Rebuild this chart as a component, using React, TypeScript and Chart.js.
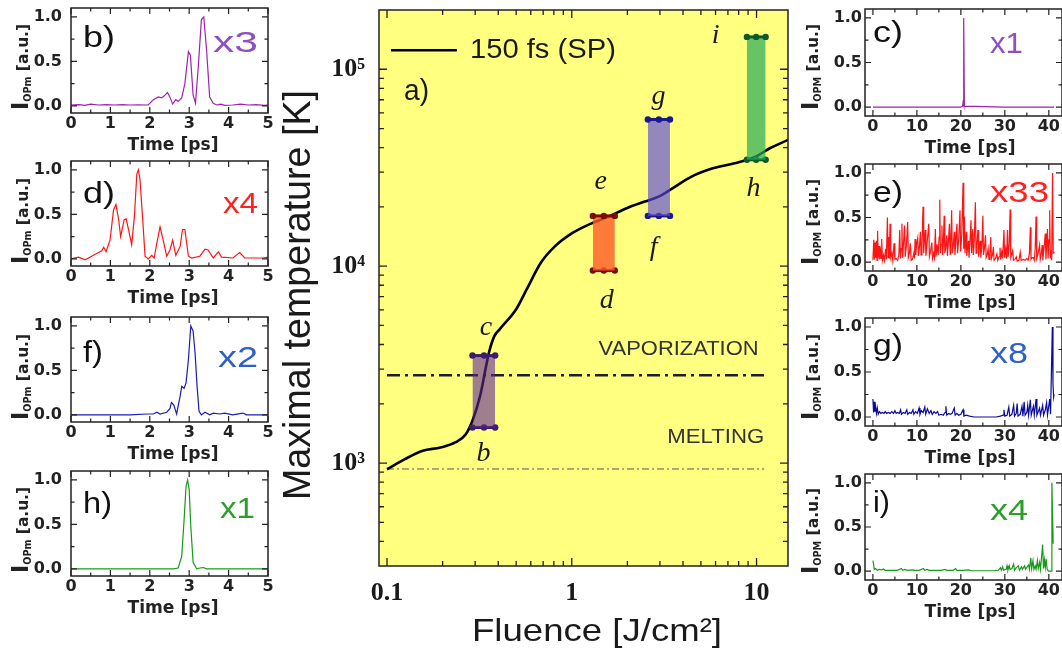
import React, { useEffect, useRef } from "react";
import { Chart, registerables } from "chart.js";

Chart.register(...registerables);

const PAGE_W = 1062;
const PAGE_H = 655;

// ===================== a) main panel data =====================
const curveFluence = [0.1, 0.125, 0.156, 0.195, 0.234, 0.267, 0.292, 0.319, 0.341, 0.356, 0.381, 0.408, 0.5, 0.57, 0.68, 0.81, 1.01, 1.27, 1.59, 1.98, 2.49, 2.97, 3.4, 4.45, 5.8, 7.6, 9.9, 11.8, 14.8];
const curveTemp = [930, 1047, 1155, 1200, 1272, 1402, 1670, 2190, 2990, 3630, 4410, 4790, 6040, 7620, 10400, 12600, 14750, 16450, 17900, 19700, 21300, 22600, 24400, 28500, 31400, 33300, 36000, 39700, 43800];

const barNames = ["b-c", "d-e", "f-g", "h-i"];
const barFluenceLo = [0.29, 1.3, 2.58, 8.87];
const barFluenceMid = [0.335, 1.49, 2.96, 9.95];
const barFluenceHi = [0.385, 1.71, 3.4, 11.2];
const barTempLo = [1515, 9500, 18000, 34700];
const barTempHi = [3515, 18000, 55600, 146000];

const meltingK = 933;
const vaporizationK = 2792;
const phaseLineFluence = [0.1, 11.0];

const fluenceMajor = [0.1, 1, 10];
const fluenceMinor = [0.2, 0.3, 0.4, 0.5, 0.6, 0.7, 0.8, 0.9, 2, 3, 4, 5, 6, 7, 8, 9];
const tempMajor = [1000, 10000, 100000];
const tempMajorLabels = ["10\u00b3", "10\u2074", "10\u2075"];
const tempMinor = [400, 500, 600, 700, 800, 900, 2000, 3000, 4000, 5000, 6000, 7000, 8000, 9000, 20000, 30000, 40000, 50000, 60000, 70000, 80000, 90000];

// ===================== side panels data =====================
const bTime = [0, 0.2, 0.35, 0.5, 0.7, 0.9, 1.1, 1.3, 1.5, 1.7, 1.96, 2.09, 2.22, 2.3, 2.36, 2.45, 2.52, 2.58, 2.66, 2.72, 2.81, 2.89, 2.98, 3.03, 3.1, 3.16, 3.23, 3.31, 3.37, 3.44, 3.52, 3.61, 3.7, 3.8, 3.9, 4.1, 4.3, 4.5, 4.7, 4.9, 5.0];
const bSignal = [0.01, 0.015, 0.005, 0.02, 0.01, 0.015, 0.01, 0.015, 0.01, 0.012, 0.01, 0.07, 0.1, 0.09, 0.11, 0.15, 0.09, 0.02, 0.07, 0.05, 0.09, 0.25, 0.61, 0.57, 0.12, 0.03, 0.44, 0.97, 1.0, 0.63, 0.1, 0.03, 0.01, 0.02, 0.005, 0.01, 0.02, 0.01, 0.015, 0.005, 0.01];

const dTime = [0, 0.19, 0.36, 0.57, 0.78, 0.83, 0.89, 0.99, 1.08, 1.14, 1.21, 1.26, 1.35, 1.4, 1.46, 1.54, 1.61, 1.67, 1.71, 1.75, 1.82, 1.88, 1.96, 2.05, 2.11, 2.18, 2.26, 2.34, 2.43, 2.51, 2.58, 2.66, 2.77, 2.83, 2.89, 2.98, 3.06, 3.27, 3.4, 3.48, 3.61, 3.74, 3.82, 4.11, 4.28, 4.41, 4.87, 5.0];
const dSignal = [0, 0.02, -0.01, 0.04, 0.09, 0.13, 0.08, 0.21, 0.55, 0.61, 0.44, 0.25, 0.44, 0.45, 0.33, 0.16, 0.48, 0.95, 1.0, 0.9, 0.44, 0.03, 0, 0.04, 0.01, 0.18, 0.36, 0.21, 0.03, 0.1, 0.21, 0.04, 0.14, 0.33, 0.33, 0.03, 0.01, 0.03, 0.11, 0.1, 0.01, 0.08, 0.02, 0.01, 0.07, 0.01, 0.01, 0.02];

const fTime = [0, 0.5, 1.0, 1.5, 1.92, 2.09, 2.18, 2.26, 2.43, 2.51, 2.55, 2.61, 2.68, 2.77, 2.81, 2.87, 2.92, 2.98, 3.04, 3.1, 3.15, 3.2, 3.25, 3.31, 3.4, 3.52, 3.61, 3.78, 3.9, 4.1, 4.37, 4.45, 4.7, 5.0];
const fSignal = [0, 0, 0, 0, 0.01, 0.01, 0.03, 0.01, 0.03, 0.07, 0.14, 0.11, 0.01, 0.21, 0.32, 0.3, 0.36, 0.62, 1.0, 0.94, 0.69, 0.32, 0.04, 0, 0.03, 0, 0.02, 0.01, 0.02, 0, 0.02, 0, 0, 0];

const hTime = [0, 1, 2, 2.6, 2.72, 2.81, 2.87, 2.92, 2.96, 3.0, 3.04, 3.1, 3.19, 3.27, 3.36, 3.44, 4, 5];
const hSignal = [0, 0, 0, 0, 0.01, 0.14, 0.55, 0.93, 1.0, 0.89, 0.48, 0.07, 0, 0.01, 0.015, 0, 0, 0];

const cTime = [0, 10, 20, 20.4, 20.5, 20.6, 20.7, 20.8, 30, 41.2];
const cSignal = [0, 0, 0, 0.01, 0.05, 0.02, 1.0, 0.01, 0, 0];

const eTime = [
  0.0, 0.2, 0.35, 0.5, 0.65, 0.8, 0.95, 1.06, 1.2, 1.4,
  1.55, 1.75, 1.9, 2.0, 2.15, 2.4, 2.6, 2.9, 3.05, 3.3,
  3.45, 3.6, 3.75, 3.9, 4.05, 4.3, 4.5, 4.8, 5.0, 5.3,
  5.6, 5.9, 6.1, 6.25, 6.45, 6.6, 6.75, 6.95, 7.2, 7.35,
  7.6, 7.9, 8.05, 8.3, 8.5, 8.7, 9.0, 9.3, 9.45, 9.6,
  9.75, 9.95, 10.2, 10.35, 10.55, 10.8, 10.95, 11.15, 11.4, 11.55,
  11.7, 11.9, 12.05, 12.3, 12.7, 12.85, 13.1, 13.4, 13.55, 13.8,
  14.0, 14.2, 14.35, 14.6, 14.85, 15.05, 15.2, 15.35, 15.5, 15.7,
  15.85, 16.0, 16.2, 16.35, 16.55, 16.8, 16.95, 17.15, 17.4, 17.55,
  17.7, 17.9, 18.05, 18.25, 18.5, 18.65, 18.85, 19.1, 19.25, 19.5,
  19.8, 19.95, 20.2, 20.5, 20.65, 20.8, 20.95, 21.2, 21.35, 21.5,
  21.7, 21.85, 22.05, 22.3, 22.45, 22.7, 22.85, 23.05, 23.3, 23.45,
  23.65, 23.9, 24.05, 24.2, 24.4, 24.55, 24.8, 25.0, 25.15, 25.35,
  25.6, 25.75, 26.0, 26.2, 26.4, 26.6, 26.8, 26.95, 27.2, 27.4,
  27.55, 27.9, 28.2, 28.4, 28.7, 28.9, 29.05, 29.3, 29.5, 29.8,
  29.95, 30.2, 30.4, 30.6, 30.75, 31.0, 31.2, 31.35, 31.8, 31.95,
  32.3, 32.6, 32.8, 33.2, 33.5, 33.7, 34.2, 34.6, 35.0, 35.3,
  35.6, 35.8, 35.95, 36.2, 36.5, 36.7, 36.9, 37.1, 37.25, 37.5,
  37.9, 38.05, 38.3, 38.5, 38.65, 38.9, 39.2, 39.35, 39.5, 39.7,
  39.85, 40.05, 40.2, 40.35, 40.5, 40.65, 40.85, 41.0, 41.3,
];
const eSignal = [
  0.02, 0.25, 0.03, 0.22, 0.05, 0.24, 0.02, 0.35, 0.04, 0.18,
  0.03, 0.12, 0.04, 0.26, 0.02, 0.08, 0.02, 0.15, 0.03, 0.5,
  0.05, 0.28, 0.04, 0.43, 0.05, 0.1, 0.02, 0.21, 0.03, 0.04,
  0.02, 0.08, 0.36, 0.04, 0.15, 0.43, 0.05, 0.2, 0.41, 0.06,
  0.18, 0.45, 0.05, 0.1, 0.21, 0.02, 0.03, 0.1, 0.04, 0.26,
  0.08, 0.2, 0.27, 0.07, 0.15, 0.34, 0.08, 0.2, 0.62, 0.1,
  0.24, 0.36, 0.07, 0.2, 0.43, 0.06, 0.12, 0.22, 0.04, 0.1,
  0.05, 0.37, 0.06, 0.2, 0.08, 0.28, 0.7, 0.1, 0.2, 0.41,
  0.08, 0.18, 0.52, 0.1, 0.16, 0.3, 0.07, 0.22, 0.43, 0.09,
  0.2, 0.58, 0.1, 0.18, 0.34, 0.08, 0.22, 0.43, 0.1, 0.25,
  0.58, 0.12, 0.3, 0.89, 0.15, 0.51, 0.1, 0.34, 0.07, 0.15,
  0.24, 0.05, 0.2, 0.47, 0.1, 0.37, 0.08, 0.25, 0.67, 0.1,
  0.2, 0.36, 0.06, 0.15, 0.24, 0.05, 0.2, 0.52, 0.08, 0.15,
  0.3, 0.05, 0.08, 0.15, 0.03, 0.1, 0.28, 0.04, 0.08, 0.17,
  0.02, 0.04, 0.09, 0.02, 0.06, 0.16, 0.03, 0.12, 0.04, 0.36,
  0.05, 0.15, 0.04, 0.36, 0.06, 0.2, 0.59, 0.05, 0.13, 0.02,
  0.03, 0.06, 0.01, 0.02, 0.11, 0.02, 0.03, 0.02, 0.04, 0.02,
  0.1, 0.39, 0.03, 0.05, 0.05, 0.02, 0.15, 0.51, 0.04, 0.08,
  0.19, 0.03, 0.1, 0.19, 0.02, 0.15, 0.32, 0.03, 0.18, 0.37,
  0.04, 0.25, 0.58, 0.04, 0.13, 0.02, 1.0, 0.1, 0.11,
];

const gTime = [
  0.0, 0.15, 0.3, 0.45, 0.6, 0.8, 1.0, 1.2, 1.5, 1.8,
  2.1, 2.5, 2.8, 3.1, 3.5, 3.9, 4.3, 4.7, 5.0, 5.3,
  5.6, 6.0, 6.3, 6.5, 6.9, 7.3, 7.7, 7.9, 8.3, 8.7,
  9.1, 9.3, 9.7, 10.1, 10.5, 10.7, 11.0, 11.4, 11.8, 12.0,
  12.4, 12.8, 13.2, 13.5, 13.9, 14.3, 14.7, 15.0, 15.5, 16.0,
  16.4, 16.6, 16.8, 17.2, 17.6, 18.0, 18.5, 18.7, 19.1, 19.5,
  20.0, 20.5, 20.7, 21.2, 22.0, 23.0, 24.0, 25.0, 26.0, 27.0,
  28.0, 29.0, 29.6, 29.8, 30.0, 30.5, 30.9, 31.1, 31.6, 32.0,
  32.2, 32.6, 32.8, 33.0, 33.5, 33.9, 34.1, 34.4, 34.6, 35.0,
  35.2, 35.4, 35.8, 36.0, 36.5, 36.7, 37.1, 37.3, 37.6, 37.9,
  38.1, 38.6, 38.8, 39.2, 39.5, 39.7, 40.2, 40.4, 40.8, 40.95,
  41.1, 41.2,
];
const gSignal = [
  0.2, 0.05, 0.17, 0.06, 0.12, 0.04, 0.1, 0.03, 0.06, 0.04,
  0.05, 0.04, 0.06, 0.04, 0.05, 0.04, 0.06, 0.04, 0.07, 0.04,
  0.05, 0.04, 0.08, 0.03, 0.05, 0.04, 0.08, 0.03, 0.05, 0.04,
  0.08, 0.03, 0.06, 0.04, 0.1, 0.03, 0.07, 0.05, 0.11, 0.03,
  0.09, 0.04, 0.07, 0.03, 0.06, 0.04, 0.06, 0.02, 0.03, 0.02,
  0.05, 0.12, 0.02, 0.04, 0.03, 0.04, 0.1, 0.02, 0.04, 0.02,
  0.03, 0.08, 0.01, 0.02, 0.01, 0, 0, 0, 0, 0,
  0, 0.01, 0.02, 0.08, 0.01, 0.02, 0.11, 0.01, 0.03, 0.13,
  0.01, 0.04, 0.15, 0.01, 0.03, 0.12, 0.01, 0.17, 0.02, 0.05,
  0.13, 0.02, 0.19, 0.02, 0.12, 0.02, 0.2, 0.02, 0.06, 0.1,
  0.02, 0.13, 0.02, 0.08, 0.16, 0.02, 0.2, 0.03, 1.0, 0.37,
  0.22, 0.25,
];

const iTime = [
  0.0, 0.15, 0.3, 0.6, 1.0, 1.5, 2.0, 2.4, 2.8, 3.5,
  4.5, 5.5, 6.5, 6.8, 7.3, 7.8, 8.9, 9.5, 10.5, 11.5,
  11.8, 12.3, 12.8, 14.0, 15.5, 16.4, 16.8, 17.5, 18.3, 18.8,
  19.1, 20.5, 21.7, 22.5, 24.0, 26.0, 27.5, 28.5, 29.0, 29.2,
  29.5, 29.7, 30.3, 30.5, 30.7, 31.0, 31.2, 31.6, 32.0, 32.2,
  32.6, 33.1, 33.3, 33.8, 34.0, 34.5, 34.7, 35.4, 35.6, 35.9,
  36.1, 36.4, 36.6, 36.9, 37.1, 37.4, 37.6, 37.9, 38.1, 38.6,
  38.8, 39.0, 39.2, 39.4, 39.6, 39.9, 40.5, 40.7, 40.85, 41.0,
];
const iSignal = [
  0.12, 0.08, 0.02, 0.03, 0.01, 0.02, 0.015, 0.025, 0.01, 0.01,
  0.01, 0.01, 0.03, 0.01, 0.02, 0.01, 0.015, 0.01, 0.01, 0.03,
  0.01, 0.02, 0.01, 0.01, 0.01, 0.02, 0.01, 0.01, 0.01, 0.03,
  0.01, 0.01, 0.015, 0.005, 0.005, 0.005, 0.005, 0.01, 0.04, 0.01,
  0.05, 0.01, 0.02, 0.06, 0.01, 0.06, 0.02, 0.03, 0.08, 0.01,
  0.04, 0.06, 0.01, 0.05, 0.02, 0.06, 0.02, 0.07, 0.02, 0.15,
  0.03, 0.12, 0.02, 0.06, 0.02, 0.12, 0.03, 0.1, 0.02, 0.3,
  0.03, 0.13, 0.04, 0.14, 0.03, 0, 0, 1.0, 0.65, 0.31,
];

const shortTimeMajor = [0, 1, 2, 3, 4, 5];
const shortTimeMinor = [0.5, 1.5, 2.5, 3.5, 4.5];
const longTimeMajor = [0, 10, 20, 30, 40];
const longTimeMinor = [5, 15, 25, 35];
const signalMajor = [0, 0.5, 1];
const signalMinor = [0.25, 0.75];

// ===================== styles =====================
const BAR_FILL = ["rgba(95,40,150,0.6)", "rgba(255,90,40,0.8)", "rgba(90,70,220,0.65)", "rgba(40,170,90,0.7)"];
const BAR_EDGE = ["#3c1c6e", "#7a0c0c", "#1a1a8c", "#0a5a2a"];
const YELLOW = "#ffff80";
const INK = "#1a1a1a";

type TextOpts = { font: string; color?: string; align?: CanvasTextAlign; base?: CanvasTextBaseline; w?: number; sy?: number; rot?: number };

function drawText(ctx: CanvasRenderingContext2D, s: string, x: number, y: number, o: TextOpts) {
  ctx.save();
  ctx.translate(x, y);
  if (o.rot) ctx.rotate(o.rot);
  ctx.font = o.font;
  const m = ctx.measureText(s).width;
  const sx = o.w ? o.w / m : 1;
  ctx.scale(sx, o.sy ?? 1);
  ctx.fillStyle = o.color ?? INK;
  ctx.textAlign = o.align ?? "left";
  ctx.textBaseline = o.base ?? "alphabetic";
  ctx.fillText(s, 0, 0);
  ctx.restore();
}

function drawIopm(ctx: CanvasRenderingContext2D, sub: string, baseX: number, centerY: number) {
  const f1 = 'bold 23px "DejaVu Sans"';
  const f2 = 'bold 10px "DejaVu Sans"';
  const f3 = 'bold 16px "DejaVu Sans"';
  ctx.save();
  ctx.font = f1;
  const w1 = ctx.measureText("I").width;
  ctx.font = f2;
  const w2 = ctx.measureText(sub).width;
  ctx.font = f3;
  const w3 = ctx.measureText(" [a.u.]").width;
  const total = w1 + w2 + w3;
  const k = 86 / total;
  ctx.translate(baseX, centerY);
  ctx.rotate(-Math.PI / 2);
  ctx.scale(k, 1);
  ctx.fillStyle = "#222";
  ctx.textAlign = "left";
  ctx.textBaseline = "alphabetic";
  const x0 = -total / 2;
  ctx.font = f1;
  ctx.fillText("I", x0, 0);
  ctx.font = f2;
  ctx.fillText(sub, x0 + w1, 3);
  ctx.font = f3;
  ctx.fillText(" [a.u.]", x0 + w1 + w2, 0);
  ctx.restore();
}

type TickSpec = { xMajor: number[]; xMinor: number[]; yMajor: number[]; yMinor: number[]; major: number; minor: number; width: number; frame: number };

function decor(t: TickSpec, bg: string | null, extra: (ctx: CanvasRenderingContext2D, chart: any) => void) {
  return {
    id: "decor",
    beforeDraw(chart: any) {
      if (!bg) return;
      const a = chart.chartArea;
      const ctx = chart.ctx;
      ctx.save();
      ctx.fillStyle = bg;
      ctx.fillRect(a.left, a.top, a.right - a.left, a.bottom - a.top);
      ctx.restore();
    },
    afterDraw(chart: any) {
      const ctx: CanvasRenderingContext2D = chart.ctx;
      const a = chart.chartArea;
      const xs = chart.scales.x;
      const ys = chart.scales.y;
      ctx.save();
      ctx.strokeStyle = "#222";
      ctx.lineWidth = t.width;
      ctx.beginPath();
      const vx = (vals: number[], len: number) => {
        for (const v of vals) {
          const p = xs.getPixelForValue(v);
          if (p < a.left - 0.5 || p > a.right + 0.5) continue;
          ctx.moveTo(p, a.bottom);
          ctx.lineTo(p, a.bottom - len);
          ctx.moveTo(p, a.top);
          ctx.lineTo(p, a.top + len);
        }
      };
      const vy = (vals: number[], len: number) => {
        for (const v of vals) {
          const p = ys.getPixelForValue(v);
          if (p < a.top - 0.5 || p > a.bottom + 0.5) continue;
          ctx.moveTo(a.left, p);
          ctx.lineTo(a.left + len, p);
          ctx.moveTo(a.right, p);
          ctx.lineTo(a.right - len, p);
        }
      };
      vx(t.xMajor, t.major);
      vx(t.xMinor, t.minor);
      vy(t.yMajor, t.major);
      vy(t.yMinor, t.minor);
      ctx.stroke();
      ctx.lineWidth = t.frame;
      ctx.strokeRect(a.left, a.top, a.right - a.left, a.bottom - a.top);
      ctx.restore();
      extra(ctx, chart);
    },
  };
}

// fix the axis box sizes so that the plot area lands exactly where asked
function fixSize(kind: "w" | "h", size: number) {
  return (s: any) => {
    if (kind === "w") s.width = size;
    else s.height = size;
    s.paddingTop = 0;
    s.paddingBottom = 0;
    s.paddingLeft = 0;
    s.paddingRight = 0;
  };
}

// ===================== main chart =====================
function makeMainConfig() {
  const area = { left: 379, top: 10, right: 788, bottom: 566 };
  const yW = 100;
  const xH = 60;
  const datasets: any[] = [];
  datasets.push({
    label: "150 fs (SP)",
    data: curveFluence.map((f, i) => ({ x: f, y: curveTemp[i] })),
    borderColor: "#000",
    borderWidth: 2.6,
    pointRadius: 0,
    cubicInterpolationMode: "monotone",
    fill: false,
    order: 3,
  });
  datasets.push({
    label: "vaporization",
    data: phaseLineFluence.map((f) => ({ x: f, y: vaporizationK })),
    borderColor: "#1e1e1e",
    borderWidth: 2.4,
    borderDash: [13, 5, 3, 5],
    pointRadius: 0,
    fill: false,
    order: 4,
  });
  datasets.push({
    label: "melting",
    data: phaseLineFluence.map((f) => ({ x: f, y: meltingK })),
    borderColor: "#555",
    borderWidth: 1,
    borderDash: [7, 3, 2, 3],
    pointRadius: 0,
    fill: false,
    order: 4,
  });
  for (let k = 0; k < barNames.length; k++) {
    const fs = [barFluenceLo[k], barFluenceMid[k], barFluenceHi[k]];
    datasets.push({
      label: barNames[k] + " top",
      data: fs.map((f) => ({ x: f, y: barTempHi[k] })),
      borderColor: BAR_EDGE[k],
      backgroundColor: BAR_FILL[k],
      borderWidth: 3,
      pointRadius: 3.2,
      pointBackgroundColor: BAR_EDGE[k],
      pointBorderWidth: 0,
      fill: "+1",
      order: 1,
    });
    datasets.push({
      label: barNames[k] + " bottom",
      data: fs.map((f) => ({ x: f, y: barTempLo[k] })),
      borderColor: BAR_EDGE[k],
      borderWidth: 3,
      pointRadius: 3.2,
      pointBackgroundColor: BAR_EDGE[k],
      pointBorderWidth: 0,
      fill: false,
      order: 1,
    });
  }

  const extra = (ctx: CanvasRenderingContext2D, chart: any) => {
    const X = (f: number) => chart.scales.x.getPixelForValue(f);
    const Y = (T: number) => chart.scales.y.getPixelForValue(T);
    ctx.save();
    ctx.strokeStyle = "#000";
    ctx.lineWidth = 2.6;
    ctx.beginPath();
    ctx.moveTo(X(0.105), Y(1.25e5));
    ctx.lineTo(X(0.239), Y(1.25e5));
    ctx.stroke();
    ctx.restore();
    drawText(ctx, "150 fs (SP)", X(0.281), Y(1.25e5), { font: '28px "Liberation Sans"', base: "middle", w: 146 });
    drawText(ctx, "a)", X(0.1236), Y(7.7e4), { font: '30px "Liberation Sans"', base: "middle", w: 25 });
    const it = '28px "Liberation Serif"';
    const letters: [string, number, number][] = [
      ["i", 6.0, 1.49e5],
      ["g", 2.95, 7.25e4],
      ["e", 1.435, 2.69e4],
      ["h", 9.64, 2.49e4],
      ["f", 2.77, 1.24e4],
      ["d", 1.545, 6650],
      ["c", 0.343, 4850],
      ["b", 0.333, 1110],
    ];
    for (const [s, f, T] of letters) {
      drawText(ctx, s, X(f), Y(T), { font: "italic " + it, align: "center", base: "middle" });
    }
    drawText(ctx, "VAPORIZATION", X(10.26), Y(3780), { font: '20px "Liberation Sans"', align: "right", base: "middle", w: 160, color: "#333" });
    drawText(ctx, "MELTING", X(11.0), Y(1350), { font: '20px "Liberation Sans"', align: "right", base: "middle", w: 97, color: "#333" });
    drawText(ctx, "Maximal temperature [K]", 310, 295, { font: '38px "Liberation Sans"', align: "center", rot: -Math.PI / 2, w: 410 });
    drawText(ctx, "Fluence [J/cm\u00b2]", 597, 632, { font: '32px "Liberation Sans"', align: "center", base: "middle", w: 250 });
  };

  return {
    type: "line",
    data: { datasets },
    options: {
      responsive: false,
      animation: false,
      events: [],
      devicePixelRatio: 1,
      layout: { padding: { left: area.left - yW, top: area.top, right: PAGE_W - area.right, bottom: PAGE_H - area.bottom - xH } },
      plugins: { legend: { display: false }, tooltip: { enabled: false } },
      scales: {
        x: {
          type: "logarithmic",
          min: 0.0905,
          max: 14.8,
          afterFit: fixSize("h", xH),
          afterBuildTicks: (s: any) => { s.ticks = fluenceMajor.map((v) => ({ value: v })); },
          ticks: { callback: (v: any) => String(v), font: { family: '"Liberation Serif"', size: 26, weight: "bold", lineHeight: 1 }, color: INK, padding: 14, maxRotation: 0, autoSkip: false },
          grid: { display: false, drawTicks: false },
          border: { display: false },
        },
        y: {
          type: "logarithmic",
          min: 300,
          max: 200000,
          afterFit: fixSize("w", yW),
          afterBuildTicks: (s: any) => { s.ticks = tempMajor.map((v) => ({ value: v })); },
          ticks: { callback: (v: any) => tempMajorLabels[tempMajor.indexOf(Number(v))], font: { family: '"Liberation Serif"', size: 26, weight: "bold", lineHeight: 1 }, color: INK, padding: 14, autoSkip: false },
          grid: { display: false, drawTicks: false },
          border: { display: false },
        },
      },
    },
    plugins: [decor({ xMajor: fluenceMajor, xMinor: fluenceMinor, yMajor: tempMajor, yMinor: tempMinor, major: 8, minor: 5, width: 1.3, frame: 1.5 }, YELLOW, extra)],
  };
}

// ===================== small panels =====================
type Small = {
  time: number[];
  signal: number[];
  line: string;
  area: [number, number, number, number];
  xMin: number;
  xMax: number;
  yMin: number;
  yMax: number;
  xMajor: number[];
  xMinor: number[];
  letter: string;
  letterX: number;
  letterW: number;
  letterBase: number;
  mult: string;
  multX: number;
  multW: number;
  multBase: number;
  multColor: string;
  sub: string;
  labelX: number;
  labelY: number;
  yPad: number;
  titleX: number;
};

const LEFT_AREA_X: [number, number] = [71, 268];
const RIGHT_AREA_X: [number, number] = [865, 1062];

const smallPanels: Small[] = [
  { time: bTime, signal: bSignal, line: "#9b23af", area: [LEFT_AREA_X[0], 8, LEFT_AREA_X[1], 113], xMin: 0, xMax: 5, yMin: -0.08, yMax: 1.1, xMajor: shortTimeMajor, xMinor: shortTimeMinor, letter: "b)", letterX: 83, letterW: 32, letterBase: 47, mult: "x3", multX: 213, multW: 45, multBase: 52, multColor: "#8d4fc4", sub: "OPm", labelX: 28, labelY: 67, yPad: 9, titleX: 173 },
  { time: dTime, signal: dSignal, line: "#ff1414", area: [LEFT_AREA_X[0], 161, LEFT_AREA_X[1], 266], xMin: 0, xMax: 5, yMin: -0.08, yMax: 1.1, xMajor: shortTimeMajor, xMinor: shortTimeMinor, letter: "d)", letterX: 83, letterW: 32, letterBase: 203, mult: "x4", multX: 223, multW: 35, multBase: 213, multColor: "#ff2020", sub: "OPm", labelX: 28, labelY: 221, yPad: 9, titleX: 173 },
  { time: fTime, signal: fSignal, line: "#1c1cb8", area: [LEFT_AREA_X[0], 317, LEFT_AREA_X[1], 422], xMin: 0, xMax: 5, yMin: -0.08, yMax: 1.1, xMajor: shortTimeMajor, xMinor: shortTimeMinor, letter: "f)", letterX: 83, letterW: 20, letterBase: 362, mult: "x2", multX: 218, multW: 40, multBase: 367, multColor: "#2f5fc8", sub: "OPm", labelX: 28, labelY: 377, yPad: 9, titleX: 173 },
  { time: hTime, signal: hSignal, line: "#1a9a1a", area: [LEFT_AREA_X[0], 471, LEFT_AREA_X[1], 576], xMin: 0, xMax: 5, yMin: -0.08, yMax: 1.1, xMajor: shortTimeMajor, xMinor: shortTimeMinor, letter: "h)", letterX: 83, letterW: 29, letterBase: 513, mult: "x1", multX: 220, multW: 35, multBase: 518, multColor: "#2aa02a", sub: "OPm", labelX: 28, labelY: 530, yPad: 9, titleX: 173 },
  { time: cTime, signal: cSignal, line: "#9b23af", area: [RIGHT_AREA_X[0], 9, RIGHT_AREA_X[1], 116], xMin: -1.8, xMax: 43, yMin: -0.1, yMax: 1.1, xMajor: longTimeMajor, xMinor: longTimeMinor, letter: "c)", letterX: 873, letterW: 30, letterBase: 42, mult: "x1", multX: 990, multW: 33, multBase: 53, multColor: "#8d4fc4", sub: "OPM", labelX: 818, labelY: 67, yPad: 3, titleX: 970 },
  { time: eTime, signal: eSignal, line: "#ff1414", area: [RIGHT_AREA_X[0], 164, RIGHT_AREA_X[1], 271], xMin: -1.8, xMax: 43, yMin: -0.1, yMax: 1.1, xMajor: longTimeMajor, xMinor: longTimeMinor, letter: "e)", letterX: 873, letterW: 30, letterBase: 202, mult: "x33", multX: 990, multW: 59, multBase: 202, multColor: "#ff2020", sub: "OPM", labelX: 818, labelY: 222, yPad: 3, titleX: 970 },
  { time: gTime, signal: gSignal, line: "#0c0c9c", area: [RIGHT_AREA_X[0], 318, RIGHT_AREA_X[1], 426], xMin: -1.8, xMax: 43, yMin: -0.1, yMax: 1.1, xMajor: longTimeMajor, xMinor: longTimeMinor, letter: "g)", letterX: 873, letterW: 30, letterBase: 355, mult: "x8", multX: 990, multW: 38, multBase: 363, multColor: "#2f5fc8", sub: "OPM", labelX: 818, labelY: 377, yPad: 3, titleX: 970 },
  { time: iTime, signal: iSignal, line: "#1a9a1a", area: [RIGHT_AREA_X[0], 474, RIGHT_AREA_X[1], 580], xMin: -1.8, xMax: 43, yMin: -0.1, yMax: 1.1, xMajor: longTimeMajor, xMinor: longTimeMinor, letter: "i)", letterX: 873, letterW: 17, letterBase: 512, mult: "x4", multX: 990, multW: 38, multBase: 520, multColor: "#2aa02a", sub: "OPM", labelX: 818, labelY: 531, yPad: 3, titleX: 970 },
];

function makeSmallConfig(p: Small) {
  const [L, T, R, B] = p.area;
  const yW = 45;
  const xH = 22;
  const tickFont = { family: '"DejaVu Sans"', size: 16, weight: "bold", lineHeight: 1 };
  const extra = (ctx: CanvasRenderingContext2D) => {
    drawText(ctx, p.letter, p.letterX, p.letterBase, { font: '30px "Liberation Sans"', w: p.letterW, color: "#111" });
    drawText(ctx, p.mult, p.multX, p.multBase, { font: '29px "Liberation Sans"', w: p.multW, color: p.multColor });
    drawText(ctx, "Time [ps]", p.titleX, B + 32, { font: 'bold 18px "DejaVu Sans"', align: "center", base: "middle", w: 91, color: "#222" });
    drawIopm(ctx, p.sub, p.labelX, p.labelY);
  };
  return {
    type: "line",
    data: {
      datasets: [
        {
          data: p.time.map((t, i) => ({ x: t, y: p.signal[i] })),
          borderColor: p.line,
          borderWidth: 1.2,
          pointRadius: 0,
          tension: 0,
          fill: false,
        },
      ],
    },
    options: {
      responsive: false,
      animation: false,
      events: [],
      devicePixelRatio: 1,
      layout: { padding: { left: L - yW, top: T, right: PAGE_W - R, bottom: PAGE_H - B - xH } },
      plugins: { legend: { display: false }, tooltip: { enabled: false } },
      scales: {
        x: {
          type: "linear",
          min: p.xMin,
          max: p.xMax,
          afterFit: fixSize("h", xH),
          afterBuildTicks: (s: any) => { s.ticks = p.xMajor.map((v) => ({ value: v })); },
          ticks: { callback: (v: any) => String(v), font: tickFont, color: "#222", padding: 3, maxRotation: 0, autoSkip: false },
          grid: { display: false, drawTicks: false },
          border: { display: false },
        },
        y: {
          type: "linear",
          min: p.yMin,
          max: p.yMax,
          afterFit: fixSize("w", yW),
          afterBuildTicks: (s: any) => { s.ticks = signalMajor.map((v) => ({ value: v })); },
          ticks: { callback: (v: any) => Number(v).toFixed(1), font: tickFont, color: "#222", padding: p.yPad, autoSkip: false },
          grid: { display: false, drawTicks: false },
          border: { display: false },
        },
      },
    },
    plugins: [decor({ xMajor: p.xMajor, xMinor: p.xMinor, yMajor: signalMajor, yMinor: signalMinor, major: 6, minor: 3.5, width: 1.2, frame: 1.5 }, null, extra)],
  };
}

function ChartCanvas({ build }: { build: () => any }) {
  const ref = useRef<HTMLCanvasElement | null>(null);
  useEffect(() => {
    if (!ref.current) return;
    const chart = new Chart(ref.current, build());
    return () => chart.destroy();
  }, []);
  return (
    <canvas
      ref={ref}
      width={PAGE_W}
      height={PAGE_H}
      style={{ position: "absolute", left: 0, top: 0, width: PAGE_W, height: PAGE_H }}
    />
  );
}

export default function App() {
  return (
    <div style={{ position: "absolute", left: 0, top: 0, width: PAGE_W, height: PAGE_H, overflow: "hidden", background: "#fff" }}>
      <ChartCanvas build={makeMainConfig} />
      {smallPanels.map((p, i) => (
        <ChartCanvas key={i} build={() => makeSmallConfig(p)} />
      ))}
    </div>
  );
}
